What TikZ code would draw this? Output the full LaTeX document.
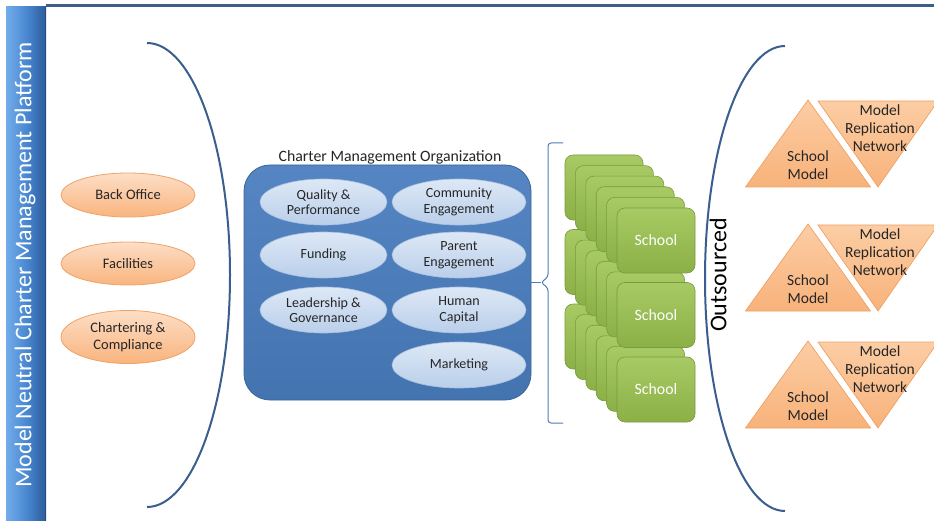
\documentclass[tikz,border=0pt]{standalone}
\usepackage{fontspec}
\setmainfont{Carlito}
\usetikzlibrary{shapes.geometric}

\definecolor{barL}{HTML}{72ACEA}
\definecolor{barM}{HTML}{4A89D2}
\definecolor{barR}{HTML}{2D5B99}
\definecolor{frameblue}{HTML}{3B5E8C}
\definecolor{arcblue}{HTML}{3A5F8E}
\definecolor{braceblue}{HTML}{4F7DB5}
\definecolor{peachT}{HTML}{FDDEC6}
\definecolor{peachB}{HTML}{F9B47E}
\definecolor{peachD}{HTML}{EFA266}
\definecolor{triT}{HTML}{FCCDA4}
\definecolor{triB}{HTML}{F8B27A}
\definecolor{cmoT}{HTML}{5585C2}
\definecolor{cmoB}{HTML}{4474B0}
\definecolor{cmoD}{HTML}{3A6698}
\definecolor{paleT}{HTML}{DDE8F6}
\definecolor{paleB}{HTML}{BACFEA}
\definecolor{paleD}{HTML}{A9C0E0}
\definecolor{grnT}{HTML}{A8CA64}
\definecolor{grnB}{HTML}{8BB046}
\definecolor{grnD}{HTML}{7A9A40}

\tikzset{
  peach/.style={ellipse, draw=peachD, line width=0.8pt, top color=peachT,
    bottom color=peachB, minimum width=134pt, minimum height=44pt,
    inner sep=0pt, align=center, text=black!85,
    font=\fontsize{14.5}{16.5}\selectfont},
  pale/.style={ellipse, draw=paleD, line width=0.6pt, top color=paleT,
    bottom color=paleB, minimum width=127pt, minimum height=46pt,
    inner sep=0pt, align=center, text=black!85,
    font=\fontsize{14}{15.5}\selectfont},
  cmobox/.style={rectangle, rounded corners=26pt, draw=cmoD, line width=0.8pt,
    top color=cmoT, bottom color=cmoB, minimum width=287pt,
    minimum height=235pt, inner sep=0pt},
  card/.style={rectangle, rounded corners=8pt, draw=grnD, line width=0.6pt,
    top color=grnT, bottom color=grnB, minimum width=78pt,
    minimum height=65pt, inner sep=0pt, text=white,
    font=\fontsize{15.8}{18}\selectfont},
  tri/.style={draw=peachD, line width=0.7pt, top color=triT, bottom color=triB},
  trilabel/.style={align=center, text=black!85, inner sep=0pt,
    font=\fontsize{15.5}{18}\selectfont},
  arcline/.style={arcblue, line width=2pt},
  braceline/.style={braceblue, line width=1pt}
}

\begin{document}
\begin{tikzpicture}[x=1pt, y=-1pt]
  \useasboundingbox (0,0) rectangle (934,521);
  \fill[white] (0,0) rectangle (934,521);

  % platform bar and top rule
  \fill[left color=barL, right color=barR, middle color=barM] (6,7) rectangle (46,521);
  \draw[barR!85!black, line width=1.2pt] (45.4,7) -- (45.4,521);
  \draw[frameblue, line width=2.4pt] (46,5.5) -- (934,5.5);
  \node[rotate=90, text=white, font=\fontsize{24}{28}\selectfont] (platform)
    at (25,265) {Model Neutral Charter Management Platform};

  % shared services
  \node[peach] (backoffice) at (128,195) {Back Office};
  \node[peach, minimum height=43pt] (facilities) at (128,263.5) {Facilities};
  \node[peach, minimum height=53pt] (chartering) at (128,337) {Chartering \&\\Compliance};

  % left and right arcs
  \draw[arcline] (147,43) arc[start angle=-90, end angle=90, x radius=83, y radius=232];
  \draw[arcline] (785,46) arc[start angle=-90, end angle=-270, x radius=80, y radius=232.5];

  % charter management organization
  \node[font=\fontsize{15.8}{18}\selectfont, text=black!85] (cmolabel) at (390,157)
    {Charter Management Organization};
  \node[cmobox] (cmo) at (387.5,282.5) {};
  \node[pale] (quality) at (323.5,202) {Quality \&\\Performance};
  \node[pale, minimum width=134pt] (community) at (459,202) {Community\\Engagement};
  \node[pale] (funding) at (323.5,255) {Funding};
  \node[pale, minimum width=134pt] (parent) at (459,255) {Parent\\Engagement};
  \node[pale] (leadership) at (323.5,310) {Leadership \&\\Governance};
  \node[pale, minimum width=134pt] (human) at (459,310) {Human\\Capital};
  \node[pale, minimum width=134pt] (marketing) at (459,365) {Marketing};

  % brace gathering the schools
  \coordinate (tip) at (541,282.5);
  \draw[braceline, rounded corners=3pt] (563,143) -- (548,143) -- (548,277)
    -- (tip) -- (548,288) -- (548,423) -- (563,423);
  \draw[braceline] (cmo.east) -- (tip);

  % stacked schools, lowest stack first so each front card stays whole
  \foreach \g/\fy in {2/357,1/282.5,0/208}{
    \foreach \k in {0,...,5}{
      \node[card] (school\g\k) at ({604+10.4*\k},{\fy-20.5+10.6*\k})
        {\ifnum\k=5 School\fi};
    }
  }

  % outsourced side
  \node[rotate=90, text=black, font=\fontsize{24}{28}\selectfont] (outsourced)
    at (718,275) {Outsourced};

  \foreach \i/\y in {1/100,2/224,3/341}{
    \draw[tri] (808,\y) -- (870.5,\y+87) -- (745.5,\y+87) -- cycle;
    \draw[tri] (818,\y+1) -- (938,\y+1) -- (878,\y+87) -- cycle;
    \node[trilabel] (model\i) at (808,\y+65) {School\\Model};
    \node[trilabel] (network\i) at (880,\y+28) {Model\\Replication\\Network};
  }
\end{tikzpicture}
\end{document}
